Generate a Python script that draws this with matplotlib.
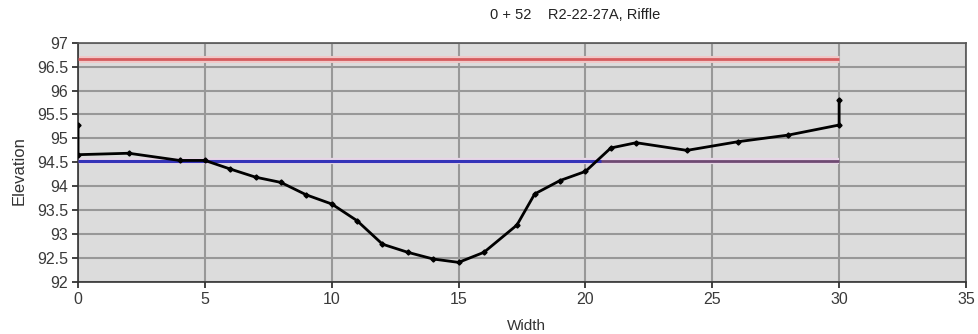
import matplotlib
matplotlib.use("Agg")
import matplotlib.pyplot as plt

# Cross-section survey: station 0 + 52, R2-22-27A, riffle
width = [0, 0, 2, 4, 5, 6, 7, 8, 9, 10, 11, 12, 13, 14, 15, 16, 17.3, 18, 19, 20,
         21, 22, 24, 26, 28, 30, 30]
elevation = [95.28, 94.66, 94.69, 94.54, 94.54, 94.36, 94.19, 94.08, 93.82, 93.63,
             93.28, 92.79, 92.62, 92.48, 92.41, 92.62, 93.19, 93.84, 94.12, 94.31,
             94.80, 94.91, 94.75, 94.93, 95.07, 95.28, 95.80]

# Reference levels
flood_x = [0, 30]
flood_y = [96.66, 96.66]
bankfull_x = [0, 30]
bankfull_y = [94.53, 94.53]
water_x = [0, 20.6]
water_y = [94.53, 94.53]

x_ticks = [0, 5, 10, 15, 20, 25, 30, 35]
y_ticks = [92, 92.5, 93, 93.5, 94, 94.5, 95, 95.5, 96, 96.5, 97]
y_labels = ["92", "92.5", "93", "93.5", "94", "94.5", "95", "95.5", "96", "96.5", "97"]

plt.rcParams['font.family'] = ['Liberation Sans', 'DejaVu Sans']

fig = plt.figure(figsize=(9.79, 3.34), dpi=100)
ax = fig.add_axes([0.0797, 0.1557, 0.9070, 0.7165])
ax.set_facecolor('#dcdcdc')

ax.set_xlim(0, 35)
ax.set_ylim(92, 97)
ax.set_xticks(x_ticks)
ax.set_yticks(y_ticks)
ax.set_yticklabels(y_labels)
ax.grid(True, color='#989898', linewidth=1.5, zorder=0)
ax.set_axisbelow(True)

for s in ax.spines.values():
    s.set_color('#555555')
    s.set_linewidth(1.2)
ax.spines['left'].set_color('#333333')
ax.spines['bottom'].set_color('#333333')
ax.tick_params(axis='both', direction='out', length=4, width=1.3, color='#333333',
               labelsize=11.5, labelcolor='#3a3a3a', pad=3)

# soft halos around the reference lines
ax.plot(flood_x, flood_y, color='#f0c8c8', linewidth=5, solid_capstyle='butt', zorder=2)
ax.plot(flood_x, flood_y, color='#d65c5e', linewidth=2, solid_capstyle='butt', zorder=3)
ax.plot(bankfull_x, bankfull_y, color='#e6d6e6', linewidth=4.5, solid_capstyle='butt', zorder=2)
ax.plot(bankfull_x, bankfull_y, color='#6e4a72', linewidth=2, solid_capstyle='butt', zorder=3)
ax.plot(water_x, water_y, color='#3434b8', linewidth=2.2, solid_capstyle='butt', zorder=4)

ax.plot(width, elevation, color='black', linewidth=2, marker='D', markersize=2.6,
        markerfacecolor='black', markeredgecolor='black', zorder=5)

ax.set_xlabel('Width', fontsize=11, color='#333333')
ax.set_ylabel('Elevation', fontsize=12, color='#333333')
ax.xaxis.set_label_coords(0.505, -0.155)
ax.yaxis.set_label_coords(-0.058, 0.465)
fig.text(0.587, 0.955, '0 + 52    R2-22-27A, Riffle', fontsize=10.5, color='#222222',
         ha='center', va='center')

fig.savefig('out.png', dpi=100)
